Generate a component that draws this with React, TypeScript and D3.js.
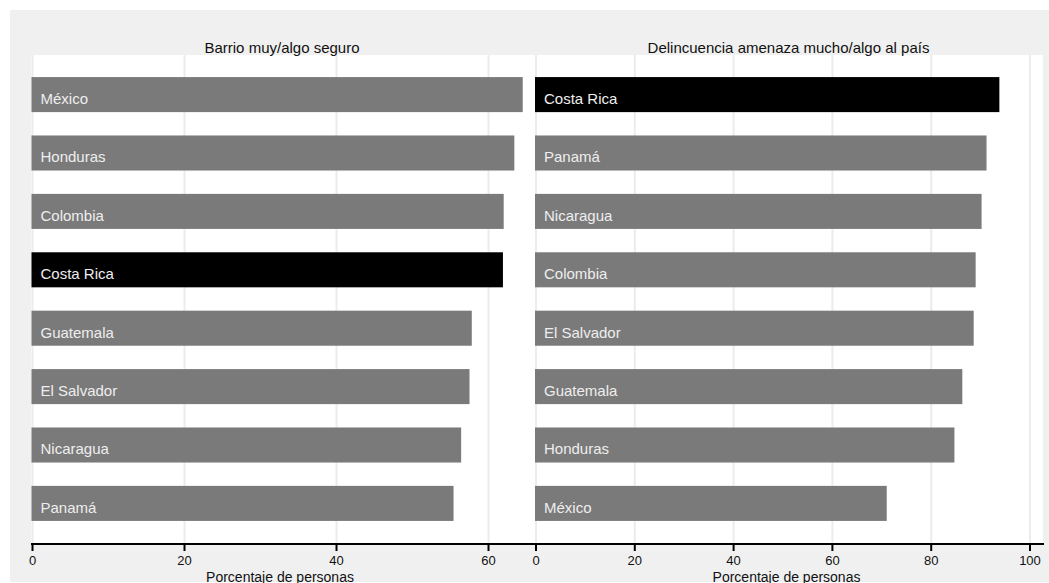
import React from "react";
import * as d3 from "d3";

const leftTitle = "Barrio muy/algo seguro";
const rightTitle = "Delincuencia amenaza mucho/algo al país";
const axisTitle = "Porcentaje de personas";

const leftCountries = ["México", "Honduras", "Colombia", "Costa Rica", "Guatemala", "El Salvador", "Nicaragua", "Panamá"];
const leftValues = [64.5, 63.4, 62.0, 61.9, 57.8, 57.5, 56.4, 55.4];

const rightCountries = ["Costa Rica", "Panamá", "Nicaragua", "Colombia", "El Salvador", "Guatemala", "Honduras", "México"];
const rightValues = [93.8, 91.2, 90.2, 89.0, 88.6, 86.3, 84.7, 71.0];

const leftTicks = [0, 20, 40, 60];
const rightTicks = [0, 20, 40, 60, 80, 100];

const highlight = "Costa Rica";

const W = 1049;
const H = 583;
const FONT = "'Liberation Sans', Arial, Helvetica, sans-serif";

const plotTop = 55;
const plotBottom = 544;

function Panel({ countries, values, ticks, x, x0, x1, title }: any) {
  const y = d3
    .scaleBand<string>()
    .domain(countries)
    .range([plotTop, plotBottom - 1])
    .paddingInner(0.4)
    .paddingOuter(0.378);
  return (
    <g>
      {ticks.map((t: number) => (
        <line key={"g" + t} x1={x(t)} x2={x(t)} y1={plotTop} y2={plotBottom} stroke="#ececec" strokeWidth={2} />
      ))}
      {countries.map((c: string, i: number) => (
        <g key={c}>
          <rect
            x={x(0) - 1}
            y={y(c)}
            width={x(values[i]) - x(0) + 1}
            height={y.bandwidth()}
            fill={c === highlight ? "#000000" : "#7a7a7a"}
          />
          <text x={x(0) + 8} y={(y(c) as number) + 27} fill="#eeeeee" fontSize={15} fontFamily={FONT}>
            {c}
          </text>
        </g>
      ))}
      <text x={(x0 + x1) / 2 + 2} y={53} textAnchor="middle" fontSize={15} fontFamily={FONT} fill="#111">
        {title}
      </text>
      <line x1={x0} x2={x1} y1={plotBottom} y2={plotBottom} stroke="#000" strokeWidth={2} />
      {ticks.map((t: number) => (
        <g key={"t" + t}>
          <line x1={x(t)} x2={x(t)} y1={plotBottom} y2={plotBottom + 7} stroke="#000" strokeWidth={2} />
          <text x={x(t)} y={565} textAnchor="middle" fontSize={13} fontFamily={FONT} fill="#111">
            {t}
          </text>
        </g>
      ))}
      <text x={(x0 + x1) / 2} y={582} textAnchor="middle" fontSize={14} fontFamily={FONT} fill="#111">
        {axisTitle}
      </text>
    </g>
  );
}

export default function App() {
  const xL = d3.scaleLinear().domain([0, 60]).range([32.5, 488.5]);
  const xR = d3.scaleLinear().domain([0, 100]).range([536, 1030]);
  const split = 529;
  const rightEnd = 1043;
  return (
    <svg width={W} height={H} style={{ position: "absolute", left: 0, top: 0 }}>
      <rect x={0} y={0} width={W} height={H} fill="#ffffff" />
      <rect x={10} y={10} width={W - 10} height={H - 11} fill="#f0f0f0" />
      <rect x={31} y={plotTop} width={rightEnd - 31} height={plotBottom - plotTop} fill="#ffffff" />
      <Panel countries={leftCountries} values={leftValues} ticks={leftTicks} x={xL} x0={31} x1={split} title={leftTitle} />
      <Panel countries={rightCountries} values={rightValues} ticks={rightTicks} x={xR} x0={split} x1={rightEnd + 1} title={rightTitle} />
    </svg>
  );
}
